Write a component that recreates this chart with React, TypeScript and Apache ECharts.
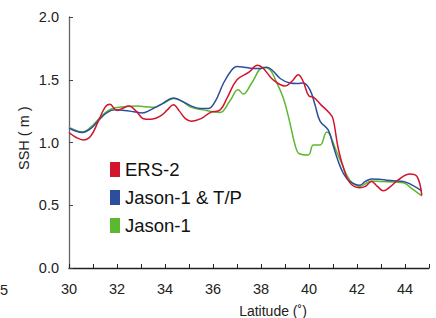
import React, { useEffect, useRef } from "react";
import * as echarts from "echarts";

const seriesNames = ["ERS-2", "Jason-1 & T/P", "Jason-1"];
const seriesColors = ["#d2142d", "#2b4f9e", "#5cb82e"];

const ers2: [number, number][] = [
  [30.0, 1.08], [30.3, 1.04], [30.6, 1.02], [30.9, 1.05], [31.2, 1.16], [31.5, 1.28], [31.7, 1.305],
  [32.0, 1.255], [32.2, 1.27], [32.5, 1.29], [32.8, 1.25], [33.1, 1.19], [33.4, 1.185], [33.8, 1.21],
  [34.1, 1.26], [34.35, 1.3], [34.6, 1.25], [34.85, 1.19], [35.1, 1.17], [35.5, 1.19], [35.9, 1.24],
  [36.3, 1.26], [36.6, 1.36], [37.0, 1.5], [37.5, 1.56], [37.85, 1.615], [38.1, 1.59], [38.5, 1.5],
  [39.0, 1.45], [39.3, 1.49], [39.55, 1.54], [39.75, 1.49], [40.0, 1.37], [40.2, 1.36], [40.5, 1.3],
  [40.85, 1.235], [41.0, 1.19], [41.2, 0.97], [41.4, 0.82], [41.7, 0.68], [42.1, 0.64], [42.35, 0.65],
  [42.6, 0.69], [42.85, 0.65], [43.1, 0.615], [43.4, 0.65], [43.7, 0.7], [44.2, 0.75], [44.5, 0.73],
  [44.7, 0.58],
];

const jasonTP: [number, number][] = [
  [30.0, 1.115], [30.3, 1.09], [30.55, 1.08], [30.9, 1.11], [31.3, 1.19], [31.6, 1.24], [31.9, 1.26],
  [32.3, 1.255], [32.7, 1.245], [33.05, 1.235], [33.4, 1.26], [33.9, 1.31], [34.35, 1.355], [34.7, 1.33],
  [35.1, 1.29], [35.5, 1.27], [35.8, 1.27], [36.1, 1.33], [36.43, 1.47], [36.75, 1.57], [37.0, 1.605],
  [37.3, 1.6], [37.68, 1.59], [38.0, 1.59], [38.24, 1.6], [38.5, 1.57], [38.8, 1.51], [39.2, 1.474],
  [39.5, 1.47], [39.76, 1.474], [40.04, 1.42], [40.25, 1.3], [40.46, 1.17], [40.8, 1.1], [41.0, 0.98],
  [41.2, 0.86], [41.43, 0.755], [41.7, 0.69], [42.125, 0.66], [42.35, 0.69], [42.6, 0.71], [43.0, 0.705],
  [43.5, 0.695], [43.93, 0.69], [44.3, 0.66], [44.7, 0.615],
];

const jason1: [number, number][] = [
  [30.0, 1.12], [30.3, 1.095], [30.55, 1.085], [30.9, 1.12], [31.3, 1.2], [31.6, 1.25], [31.875, 1.275],
  [32.3, 1.285], [32.85, 1.29], [33.2, 1.285], [33.54, 1.28], [33.9, 1.31], [34.375, 1.35], [34.7, 1.33],
  [35.1, 1.28], [35.6, 1.26], [36.0, 1.245], [36.3, 1.24], [36.7, 1.33], [37.05, 1.42], [37.26, 1.386],
  [37.6, 1.47], [38.1, 1.6], [38.375, 1.58], [38.6, 1.5], [38.93, 1.354], [39.2, 1.16], [39.42, 0.98],
  [39.6, 0.91], [39.97, 0.9], [40.18, 0.98], [40.46, 0.98], [40.74, 1.083], [40.875, 1.06], [41.1, 0.95],
  [41.36, 0.835], [41.7, 0.7], [42.125, 0.65], [42.6, 0.694], [43.0, 0.69], [43.5, 0.685], [43.93, 0.68],
  [44.3, 0.63], [44.7, 0.575],
];

const seriesData = [ers2, jasonTP, jason1];
const FONT = "'Liberation Sans', Arial, Helvetica, sans-serif";

export default function App() {
  const ref = useRef<HTMLDivElement>(null);
  useEffect(() => {
    if (!ref.current) return;
    const chart = echarts.init(ref.current, null, { renderer: "svg" });
    chart.setOption({
      animation: false,
      backgroundColor: "#ffffff",
      grid: { left: 69, right: 7, top: 17, bottom: 50 },
      legend: {
        orient: "vertical",
        left: 105,
        top: 155,
        icon: "rect",
        itemWidth: 10,
        itemHeight: 15,
        itemGap: 9,
        textStyle: { fontSize: 18.5, color: "#111", fontFamily: FONT },
        data: seriesNames,
      },
      xAxis: {
        type: "value",
        min: 30,
        max: 45,
        interval: 1,
        axisLine: { lineStyle: { color: "#222", width: 1.3 } },
        axisTick: { inside: true, length: 4, lineStyle: { color: "#222" } },
        splitLine: { show: false },
        axisLabel: {
          fontSize: 14.5,
          color: "#222",
          fontFamily: FONT,
          margin: 13,
          formatter: (v: number) => (Math.round(v) % 2 === 0 && v < 45 ? String(v) : ""),
        },
      },
      yAxis: {
        type: "value",
        min: 0,
        max: 2,
        interval: 0.5,
        axisLine: { show: true, lineStyle: { color: "#666", width: 1.3 } },
        axisTick: { show: true, inside: true, length: 4, lineStyle: { color: "#444" } },
        splitLine: { show: false },
        axisLabel: {
          fontSize: 14.5,
          color: "#222",
          fontFamily: FONT,
          margin: 10,
          formatter: (v: number) => v.toFixed(1),
        },
      },
      graphic: [
        {
          type: "text",
          rotation: Math.PI / 2,
          style: { text: "SSH ( m )", fill: "#222", font: `14.5px ${FONT}` },
          x: 16,
          y: 170,
        },
        {
          type: "text",
          x: 273,
          y: 311,
          style: {
            text: "Latitude (˚)",
            font: `14px ${FONT}`,
            fill: "#222",
            textAlign: "center",
            textVerticalAlign: "middle",
          },
        },
        {
          type: "text",
          x: 8,
          y: 290,
          style: {
            text: "5",
            font: `14.5px ${FONT}`,
            fill: "#222",
            textAlign: "right",
            textVerticalAlign: "middle",
          },
        },
      ],
      series: seriesData.map((d, i) => ({
        name: seriesNames[i],
        type: "line",
        data: d,
        smooth: 0.4,
        showSymbol: false,
        symbol: "none",
        lineStyle: { color: seriesColors[i], width: 1.5 },
        itemStyle: { color: seriesColors[i] },
        z: 3 - i,
      })),
    });
    return () => chart.dispose();
  }, []);
  return (
    <div
      ref={ref}
      style={{ position: "absolute", left: 0, top: 0, width: 436, height: 318 }}
    />
  );
}
